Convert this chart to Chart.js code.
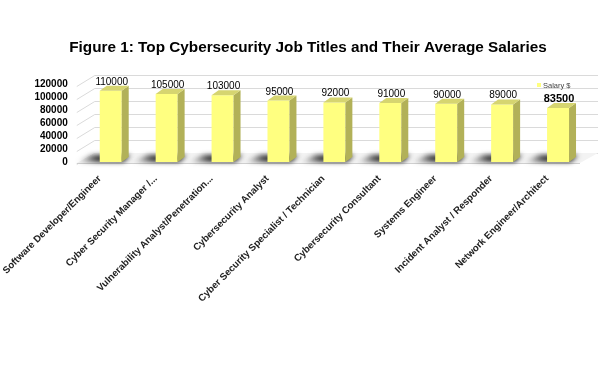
<!DOCTYPE html>
<html>
<head>
<meta charset="utf-8">
<script src="https://cdn.jsdelivr.net/npm/chart.js@4/dist/chart.umd.min.js"></script>
<style>
html,body{margin:0;padding:0;background:#fff;}
#wrap{width:608px;height:370px;}
</style>
</head>
<body>
<div id="wrap"><canvas id="c" width="608" height="370"></canvas></div>
<script>
const titleText = "Figure 1: Top Cybersecurity Job Titles and Their Average Salaries";
const seriesName = "Salary $";
const categories = [
  "Software Developer/Engineer",
  "Cyber Security Manager /...",
  "Vulnerability Analyst/Penetration...",
  "Cybersecurity Analyst",
  "Cyber Security Specialist / Technician",
  "Cybersecurity Consultant",
  "Systems Engineer",
  "Incident Analyst / Responder",
  "Network Engineer/Architect"
];
const salaries = [110000, 105000, 103000, 95000, 92000, 91000, 90000, 89000, 83500];
const yTicks = [0, 20000, 40000, 60000, 80000, 100000, 120000];

const DX = 7, DY = 5;
const FRONT = '#FFFF80', SIDE = '#B2B158', TOP = '#D6D570';

const threeD = {
  id: 'threeD',
  beforeDatasetsDraw(chart) {
    const ctx = chart.ctx, ca = chart.chartArea, ys = chart.scales.y;
    const base = ys.getPixelForValue(0);
    ctx.save();
    ctx.strokeStyle = '#DADADA';
    ctx.lineWidth = 1;
    yTicks.forEach(v => {
      const y = Math.round(ys.getPixelForValue(v)) + 0.5;
      ctx.beginPath();
      ctx.moveTo(ca.left - 6, y + 2);
      ctx.lineTo(ca.left + 12, y - 9);
      ctx.lineTo(ca.right + 12, y - 9);
      ctx.stroke();
    });
    ctx.fillStyle = '#F3F3F3';
    ctx.beginPath();
    ctx.moveTo(ca.left - 6, base + 1);
    ctx.lineTo(ca.left + 12, base - 9);
    ctx.lineTo(ca.right + 12, base - 9);
    ctx.lineTo(ca.right - 6, base + 1);
    ctx.closePath();
    ctx.fill();
    ctx.strokeStyle = '#D0D0D0';
    ctx.beginPath();
    ctx.moveTo(ca.left - 6, base + 1.5);
    ctx.lineTo(ca.right - 6, base + 1.5);
    ctx.stroke();
    const meta = chart.getDatasetMeta(0);
    ctx.filter = 'blur(2.5px)';
    meta.data.forEach(bar => {
      const l = bar.x - bar.width / 2, r = bar.x + bar.width / 2;
      const g = ctx.createLinearGradient(l - 22, 0, r + 6, 0);
      g.addColorStop(0, 'rgba(60,60,60,0.1)');
      g.addColorStop(0.4, 'rgba(25,25,25,0.9)');
      g.addColorStop(1, 'rgba(25,25,25,0.95)');
      ctx.fillStyle = g;
      ctx.beginPath();
      ctx.moveTo(l - 22, base);
      ctx.lineTo(l - 8, base - 7);
      ctx.lineTo(r + DX + 2, base - 7);
      ctx.lineTo(r + 2, base);
      ctx.closePath();
      ctx.fill();
    });
    ctx.filter = 'none';
    ctx.restore();
  },
  afterDatasetsDraw(chart) {
    const ctx = chart.ctx;
    const meta = chart.getDatasetMeta(0);
    ctx.save();
    meta.data.forEach((bar, i) => {
      const l = bar.x - bar.width / 2, r = bar.x + bar.width / 2;
      const t = bar.y, b = bar.base;
      ctx.fillStyle = SIDE;
      ctx.beginPath();
      ctx.moveTo(r, t);
      ctx.lineTo(r + DX, t - DY);
      ctx.lineTo(r + DX, b - DY);
      ctx.lineTo(r, b);
      ctx.closePath();
      ctx.fill();
      ctx.fillStyle = TOP;
      ctx.beginPath();
      ctx.moveTo(l, t);
      ctx.lineTo(l + DX, t - DY);
      ctx.lineTo(r + DX, t - DY);
      ctx.lineTo(r, t);
      ctx.closePath();
      ctx.fill();
      ctx.fillStyle = '#000';
      ctx.font = (i === salaries.length - 1 ? 'bold 11px ' : '10px ') + '"Liberation Sans", Arial, sans-serif';
      ctx.textAlign = 'center';
      ctx.textBaseline = 'alphabetic';
      ctx.fillText(String(salaries[i]), bar.x + 1, t - DY - 1);
    });
    ctx.fillStyle = FRONT;
    ctx.fillRect(537, 83, 4, 4);
    ctx.fillStyle = '#444';
    ctx.font = '7.5px "Liberation Sans", Arial, sans-serif';
    ctx.textAlign = 'left';
    ctx.textBaseline = 'middle';
    ctx.fillText(chart.data.datasets[0].label, 543, 85.5);
    ctx.restore();
  }
};

new Chart(document.getElementById('c'), {
  type: 'bar',
  data: {
    labels: categories,
    datasets: [{
      label: seriesName,
      data: salaries,
      backgroundColor: FRONT,
      borderWidth: 0,
      categoryPercentage: 1,
      barPercentage: 0.393
    }]
  },
  options: {
    responsive: false,
    animation: false,
    devicePixelRatio: 1,
    layout: { padding: { left: 30, right: 22, top: 0, bottom: 0 } },
    plugins: {
      legend: { display: false },
      tooltip: { enabled: false },
      title: {
        display: true,
        text: titleText,
        color: '#000',
        font: { family: '"Liberation Sans", Arial, sans-serif', size: 15.3, weight: 'bold', lineHeight: 1.2 },
        padding: { top: 39, bottom: 27 }
      }
    },
    scales: {
      x: {
        grid: { display: false, drawTicks: false },
        border: { display: false },
        ticks: {
          autoSkip: false,
          maxRotation: 45,
          minRotation: 45,
          padding: 11,
          labelOffset: -11,
          color: '#222',
          font: { family: '"Liberation Sans", Arial, sans-serif', size: 9.7, weight: 'bold' }
        },
        afterFit(s) { s.height = 208; }
      },
      y: {
        min: 0,
        max: 120000,
        afterBuildTicks(s) { s.ticks = yTicks.map(v => ({ value: v })); },
        grid: { display: false, drawTicks: false },
        border: { display: false },
        ticks: {
          autoSkip: false,
          padding: 15,
          color: '#000',
          font: { family: '"Liberation Sans", Arial, sans-serif', size: 10, weight: 'bold' },
          callback: (v) => String(v)
        },
        afterFit(s) { s.width = 52; }
      }
    }
  },
  plugins: [threeD]
});
</script>
</body>
</html>
